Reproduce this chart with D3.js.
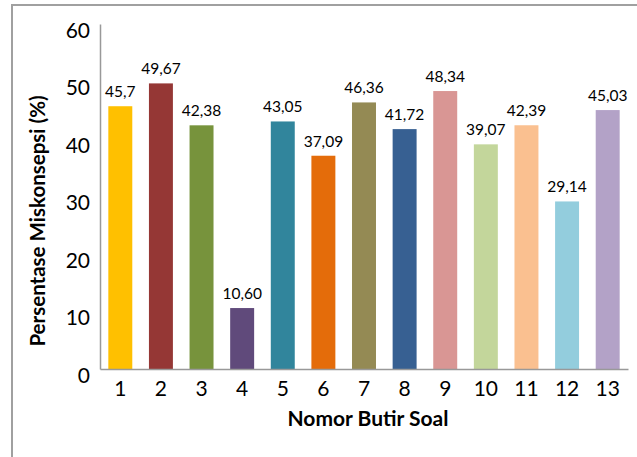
<!DOCTYPE html>
<html>
<head>
<meta charset="utf-8">
<script src="https://cdn.jsdelivr.net/npm/d3@7"></script>
<style>
  body { margin: 0; background: #fff; }
  svg text { font-family: Lato, "Open Sans", sans-serif; fill: #000; }
</style>
</head>
<body>
<div id="chart"></div>
<script>
const categories = ['1', '2', '3', '4', '5', '6', '7', '8', '9', '10', '11', '12', '13'];
const values = [45.7, 49.67, 42.38, 10.60, 43.05, 37.09, 46.36, 41.72, 48.34, 39.07, 42.39, 29.14, 45.03];
const valueLabels = ['45,7', '49,67', '42,38', '10,60', '43,05', '37,09', '46,36', '41,72', '48,34', '39,07', '42,39', '29,14', '45,03'];
const yTicks = [0, 10, 20, 30, 40, 50, 60];
const colors = ['#FFC000', '#953735', '#77933C', '#604A7B', '#31859C', '#E46C0A', '#948A54',
  '#376092', '#D99694', '#C3D69B', '#FAC090', '#93CDDD', '#B3A2C7'];

const width = 637;
const height = 457;

const svg = d3.select('#chart').append('svg')
  .attr('width', width)
  .attr('height', height);

// chart area frame (runs off the right and bottom edge)
svg.append('rect')
  .attr('x', 12)
  .attr('y', 5)
  .attr('width', width + 20)
  .attr('height', height + 20)
  .attr('fill', 'none')
  .attr('stroke', '#a0a0a0')
  .attr('stroke-width', 2);

const x = d3.scaleBand()
  .domain(categories)
  .range([100, 628])
  .paddingInner(0.41)
  .paddingOuter(0.205);

const y = d3.scaleLinear()
  .domain([0, 60])
  .range([369, 24]);

// bars
svg.selectAll('.bar')
  .data(values)
  .enter().append('rect')
  .attr('class', 'bar')
  .attr('x', (d, i) => x(categories[i]))
  .attr('y', (d) => y(d))
  .attr('width', x.bandwidth())
  .attr('height', (d) => y(0) - y(d))
  .attr('fill', (d, i) => colors[i]);

// value labels
svg.selectAll('.val')
  .data(values)
  .enter().append('text')
  .attr('class', 'val')
  .attr('x', (d, i) => x(categories[i]) + x.bandwidth() / 2)
  .attr('y', (d) => y(d) - 9)
  .attr('text-anchor', 'middle')
  .attr('font-size', 15.5)
  .text((d, i) => valueLabels[i]);

// axes
const yAxis = svg.append('g')
  .attr('transform', 'translate(100,0)')
  .call(d3.axisLeft(y).tickValues(yTicks).tickSize(0).tickPadding(10));
yAxis.select('.domain').attr('stroke', '#999').attr('stroke-width', 1.5);
yAxis.selectAll('text')
  .attr('font-size', 21)
  .attr('dy', '0.62em');

const xAxis = svg.append('g')
  .attr('transform', `translate(0,${y(0)})`)
  .call(d3.axisBottom(x).tickSize(0).tickPadding(12));
xAxis.select('.domain').attr('stroke', '#999').attr('stroke-width', 1.5);
xAxis.selectAll('text').attr('font-size', 21);

// axis titles
svg.append('text')
  .attr('transform', 'translate(45,221) rotate(-90)')
  .attr('text-anchor', 'middle')
  .attr('font-size', 20.5)
  .attr('font-weight', 'bold')
  .text('Persentase Miskonsepsi (%)');

svg.append('text')
  .attr('x', 368)
  .attr('y', 426)
  .attr('text-anchor', 'middle')
  .attr('font-size', 21)
  .attr('font-weight', 'bold')
  .text('Nomor Butir Soal');
</script>
</body>
</html>
